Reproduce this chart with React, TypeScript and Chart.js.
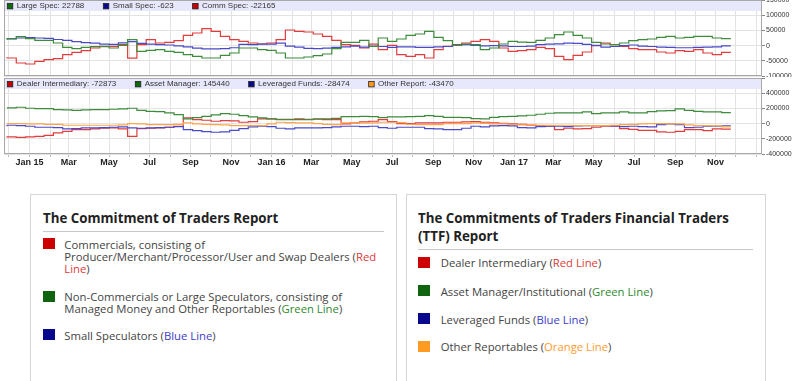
import React, { useEffect, useRef } from 'react';
import { Chart, registerables } from 'chart.js';
Chart.register(...registerables);

// report dates: days counted from 2015-01-01, one report every two weeks
const FIRST_REPORT_DAY = -34;
const REPORT_STEP_DAYS = 14;

// Legacy COT (top panel)
const LARGE_SPEC = [19500, 22800, 29400, 22800, 17300, 17300, 8500, -5700, -10100, -5700,
  -3500, -2400, -7900, 900, 19500, -18900, -15600, -13400, -18900, -22100,
  -29800, -35300, -40800, -40800, -32000, -24300, -7900, -7900, -13400, -15600,
  -24300, -40800, -40800, -37500, -33100, -27600, -10100, 10700, 10700, 17300,
  -3000, 25000, 14000, 21700, 33800, 38100, 46900, 27200, 16200, 900,
  5300, 3000, -13400, -7900, 5300, 14000, 11700, 10700, 17300, 25000,
  35900, 44700, 33800, 25000, 10700, 5300, 3000, 8500, 16200, 19500,
  21700, 27200, 30500, 25000, 27200, 30500, 30500, 25000, 22788];
const SMALL_SPEC = [22000, 22000, 25000, 26000, 25000, 24000, 20000, 17000, 13000, 10000,
  8000, 5000, 4000, 9000, 13000, 7000, 5000, 3000, 2000, -1000,
  -4000, -8000, -11000, -11000, -10000, -7000, 4000, 3000, 5000, 5000,
  8000, -2000, -5000, -9000, -10000, -8000, -6000, -4000, -2000, -5000,
  -2000, -3000, -6000, -4000, -4000, -6000, -6000, -4000, -3000, 2000,
  3000, 1000, -1000, 0, -1000, -3000, -3000, -2000, 3000, 5000,
  6000, 8000, 7000, 4000, 0, -5000, -3000, 0, 2000, -2000,
  -3000, -5000, -6000, -7000, -7000, -6000, -5000, -4000, -623];
const COMM_SPEC = [-38600, -40800, -57200, -60500, -51700, -46300, -43000, -29800, -22100, -16700,
  -7900, -3500, -2400, 3000, -40900, 3000, 19500, 8500, 10700, 16200,
  33800, 41400, 55700, 46900, 30500, 19500, 14000, 8500, 5300, 8500,
  19500, 51300, 46900, 44700, 38100, 30500, 17300, 3000, 900, -7900,
  5000, -13400, 900, -29800, -35300, -29800, -40800, -13400, -2400, 3000,
  8500, 14000, 19500, 14000, -7900, -18900, -16700, -13400, -5700, -10100,
  -35300, -46300, -32000, -21000, 900, 8500, 3000, -2400, -10100, -13400,
  -13400, -21000, -24300, -16700, -18900, -13400, -24300, -29800, -22165];

// TFF (bottom panel)
const DEALER = [-167000, -175000, -180000, -175000, -167000, -154000, -123000, -101000, -79000, -79000,
  -70000, -61000, -57000, -70000, -167000, -66000, -61000, -57000, -48000, -35000,
  75000, 53000, 44000, 31000, 39000, 35000, 18000, 26000, 61000, 61000,
  57000, 57000, 61000, 57000, 57000, 53000, 53000, -4000, 9000, 22000,
  31000, 53000, 26000, 0, 0, 9000, 9000, 9000, 18000, 18000,
  22000, 26000, 18000, 9000, 4000, -4000, -9000, -22000, -26000, -35000,
  -79000, -61000, -70000, -66000, -48000, -35000, -35000, -66000, -75000, -88000,
  -88000, -110000, -114000, -101000, -79000, -79000, -92000, -70000, -72873];
const ASSET_MANAGER = [206000, 206000, 215000, 202000, 197000, 197000, 184000, 180000, 175000, 180000,
  184000, 184000, 189000, 193000, 202000, 175000, 162000, 158000, 140000, 118000,
  61000, 79000, 96000, 114000, 132000, 123000, 105000, 88000, 75000, 61000,
  53000, 53000, 53000, 53000, 61000, 61000, 70000, 92000, 92000, 96000,
  92000, 79000, 88000, 88000, 92000, 96000, 105000, 96000, 83000, 83000,
  79000, 66000, 61000, 83000, 92000, 96000, 101000, 110000, 123000, 136000,
  140000, 140000, 140000, 154000, 132000, 140000, 140000, 154000, 140000, 140000,
  158000, 167000, 171000, 193000, 175000, 162000, 154000, 154000, 145440];
const LEVERAGED_FUNDS = [-35000, -22000, -26000, -35000, -48000, -48000, -53000, -70000, -66000, -57000,
  -57000, -53000, -48000, -44000, -57000, -61000, -57000, -53000, -48000, -39000,
  -79000, -92000, -105000, -114000, -110000, -88000, -66000, -44000, -35000, -39000,
  -61000, -70000, -57000, -57000, -57000, -53000, -44000, -35000, -35000, -39000,
  -35000, -53000, -61000, -48000, -48000, -48000, -66000, -70000, -79000, -79000,
  -61000, -35000, -44000, -31000, -26000, -31000, -53000, -57000, -39000, -35000,
  -35000, -39000, -31000, -26000, -26000, -26000, -31000, -39000, -35000, -39000,
  -44000, -13000, -4000, -13000, -53000, -48000, -35000, -35000, -28474];
const OTHER_REPORT = [0, 0, 0, -4000, -4000, -9000, -9000, -22000, -22000, -22000,
  -22000, -22000, -22000, -18000, 0, -4000, -13000, -13000, -13000, -9000,
  9000, -4000, -9000, -13000, -18000, -26000, -26000, -26000, -26000, -4000,
  18000, 13000, 9000, 9000, 0, -9000, -13000, 9000, 9000, 9000,
  9000, 18000, 18000, 13000, -9000, -13000, -13000, -13000, 0, 0,
  0, 9000, 4000, -4000, -4000, -9000, -18000, -18000, -22000, -22000,
  -22000, -22000, -26000, -26000, -26000, -26000, -22000, -13000, -9000, -4000,
  0, 0, -4000, -4000, -18000, -26000, -26000, -31000, -43470];

const MONTH_NAMES = ['Jan', 'Feb', 'Mar', 'Apr', 'May', 'Jun', 'Jul', 'Aug', 'Sep', 'Oct', 'Nov', 'Dec'];
const X_MIN = -38.5;
const X_MAX = 1105;
const LAST_LABEL_DAY = 1080;

const REPORT_DAYS = LARGE_SPEC.map((_, i) => FIRST_REPORT_DAY + i * REPORT_STEP_DAYS);

const MONTH_TICKS: { value: number; label: string }[] = [];
for (let y = 2014; y <= 2018; y++) {
  for (let m = 0; m < 12; m++) {
    const d = (Date.UTC(y, m, 1) - Date.UTC(2015, 0, 1)) / 86400000;
    if (d >= X_MIN && d <= X_MAX) {
      const label = d > LAST_LABEL_DAY ? '' : m === 0 ? `Jan ${String(y).slice(2)}` : m % 2 === 0 ? MONTH_NAMES[m] : '';
      MONTH_TICKS.push({ value: d, label });
    }
  }
}
const LABEL_MAP = new Map(MONTH_TICKS.map((t) => [t.value, t.label]));

const LINE_GREEN = '#3c8c3c';
const LINE_BLUE = '#4a4ac8';
const LINE_RED = '#e23c3c';
const LINE_ORANGE = '#ffa64d';
const SQ_GREEN = '#0b6b0b';
const SQ_BLUE = '#0a0a8c';
const SQ_RED = '#c40000';
const SQ_ORANGE = '#ff9a1f';

const FONT = '"Liberation Sans", Arial, sans-serif';
const GRID = '#e3e3e3';

const bandPlugin = {
  id: 'band',
  afterDraw(chart: any, _args: any, opts: any) {
    const { ctx, chartArea: a } = chart;
    ctx.save();
    ctx.fillStyle = 'rgb(232,232,252)';
    ctx.fillRect(a.left + 1, a.top + 1, a.right - a.left - 1, 10);
    ctx.font = `8px ${FONT}`;
    ctx.textBaseline = 'middle';
    const cy = a.top + 6.2;
    let x = a.left + 3.3;
    for (const it of opts.items || []) {
      ctx.fillStyle = it.color;
      ctx.fillRect(x, cy - 2.8, 5.5, 5.5);
      ctx.strokeStyle = '#222';
      ctx.lineWidth = 0.8;
      ctx.strokeRect(x, cy - 2.8, 5.5, 5.5);
      ctx.fillStyle = '#333';
      ctx.fillText(it.label, x + 9.4, cy);
      x += 9.4 + ctx.measureText(it.label).width + 19;
    }
    ctx.strokeStyle = '#a8a8a8';
    ctx.lineWidth = 1;
    ctx.strokeRect(a.left + 0.5, a.top + 0.5, a.right - a.left - 1, a.bottom - a.top - 1);
    ctx.restore();
  },
};

function series(label: string, values: number[], color: string) {
  return {
    label,
    data: values.map((v, i) => ({ x: REPORT_DAYS[i], y: v })),
    borderColor: color,
    backgroundColor: color,
    borderWidth: 1.2,
    pointRadius: 0,
    stepped: 'after' as const,
    fill: false,
  };
}

const zeroPad = (s: any) => {
  s.paddingTop = 0;
  s.paddingBottom = 0;
  s.paddingLeft = 0;
  s.paddingRight = 0;
};

function xScale(showLabels: boolean) {
  return {
    type: 'linear' as const,
    min: X_MIN,
    max: X_MAX,
    afterBuildTicks: (s: any) => {
      s.ticks = MONTH_TICKS.map((t) => ({ value: t.value }));
    },
    afterFit: (s: any) => {
      s.height = showLabels ? 15 : 0;
      zeroPad(s);
    },
    border: { display: false },
    grid: { color: GRID, drawTicks: showLabels, tickLength: 3, tickColor: '#bbb' },
    ticks: {
      display: showLabels,
      autoSkip: false,
      maxRotation: 0,
      minRotation: 0,
      padding: 0,
      color: '#222',
      font: { family: FONT, size: 9, weight: 'bold' as const },
      callback: (v: any) => LABEL_MAP.get(v) ?? '',
    },
  };
}

function yScale(min: number, max: number, step: number, hideTop: boolean) {
  return {
    position: 'right' as const,
    min,
    max,
    afterFit: (s: any) => {
      s.width = 38;
      zeroPad(s);
    },
    border: { display: false },
    grid: { color: GRID, tickLength: 3, tickColor: '#888' },
    ticks: {
      stepSize: step,
      autoSkip: false,
      padding: 1,
      color: '#333',
      font: { family: FONT, size: 7 },
      callback: (v: any) => (hideTop && v === max ? '' : String(v)),
    },
  };
}

export default function App() {
  const topRef = useRef<HTMLCanvasElement>(null);
  const botRef = useRef<HTMLCanvasElement>(null);

  useEffect(() => {
    const top = new Chart(topRef.current!, {
      type: 'line',
      data: {
        datasets: [
          series('Large Spec', LARGE_SPEC, LINE_GREEN),
          series('Small Spec', SMALL_SPEC, LINE_BLUE),
          series('Comm Spec', COMM_SPEC, LINE_RED),
        ],
      },
      options: {
        responsive: false,
        animation: false,
        devicePixelRatio: 1,
        layout: { autoPadding: false, padding: { left: 4, right: 0, top: 0, bottom: 1 } },
        scales: { x: xScale(false), y: yScale(-100000, 150000, 50000, false) },
        plugins: {
          legend: { display: false },
          tooltip: { enabled: false },
          band: {
            items: [
              { label: `Large Spec: ${LARGE_SPEC[LARGE_SPEC.length - 1]}`, color: SQ_GREEN },
              { label: `Small Spec: ${SMALL_SPEC[SMALL_SPEC.length - 1]}`, color: SQ_BLUE },
              { label: `Comm Spec: ${COMM_SPEC[COMM_SPEC.length - 1]}`, color: SQ_RED },
            ],
          },
        } as any,
      },
      plugins: [bandPlugin],
    });
    const bot = new Chart(botRef.current!, {
      type: 'line',
      data: {
        datasets: [
          series('Asset Manager', ASSET_MANAGER, LINE_GREEN),
          series('Other Report', OTHER_REPORT, LINE_ORANGE),
          series('Leveraged Funds', LEVERAGED_FUNDS, LINE_BLUE),
          series('Dealer Intermediary', DEALER, LINE_RED),
        ],
      },
      options: {
        responsive: false,
        animation: false,
        devicePixelRatio: 1,
        layout: { autoPadding: false, padding: { left: 4, right: 0, top: 1, bottom: 0 } },
        scales: { x: xScale(true), y: yScale(-400000, 600000, 200000, true) },
        plugins: {
          legend: { display: false },
          tooltip: { enabled: false },
          band: {
            items: [
              { label: `Dealer Intermediary: ${DEALER[DEALER.length - 1]}`, color: SQ_RED },
              { label: `Asset Manager: ${ASSET_MANAGER[ASSET_MANAGER.length - 1]}`, color: SQ_GREEN },
              { label: `Leveraged Funds: ${LEVERAGED_FUNDS[LEVERAGED_FUNDS.length - 1]}`, color: SQ_BLUE },
              { label: `Other Report: ${OTHER_REPORT[OTHER_REPORT.length - 1]}`, color: SQ_ORANGE },
            ],
          },
        } as any,
      },
      plugins: [bandPlugin],
    });
    return () => {
      top.destroy();
      bot.destroy();
    };
  }, []);

  const txt: React.CSSProperties = {
    position: 'absolute',
    fontFamily: '"Open Sans", "Noto Sans", sans-serif',
    fontSize: 11.3,
    lineHeight: '11.8px',
    color: '#444',
    whiteSpace: 'nowrap',
  };
  const title: React.CSSProperties = {
    position: 'absolute',
    fontFamily: '"Open Sans", "Noto Sans", sans-serif',
    fontSize: 13.3,
    fontWeight: 700,
    lineHeight: '18.6px',
    color: '#222',
    whiteSpace: 'nowrap',
  };
  const sq = (left: number, top: number, color: string) => (
    <div style={{ position: 'absolute', left, top, width: 11.5, height: 11, background: color }} />
  );
  const item = (sqLeft: number, textLeft: number, center: number, color: string, content: React.ReactNode) => (
    <>
      {sq(sqLeft, center - 6.8, color)}
      <div style={{ ...txt, left: textLeft, top: center - 5.9 }}>{content}</div>
    </>
  );
  const RED_T = '#e03a3a';
  const GREEN_T = '#2f8a2f';
  const BLUE_T = '#3c3cc8';
  const ORANGE_T = '#ff9b2f';

  return (
    <div style={{ position: 'absolute', left: 0, top: 0, width: 800, height: 381, overflow: 'hidden', background: '#fff' }}>
      <canvas ref={topRef} width={800} height={77} style={{ position: 'absolute', left: 0, top: 0, width: 800, height: 77 }} />
      <canvas ref={botRef} width={800} height={92} style={{ position: 'absolute', left: 0, top: 77, width: 800, height: 92 }} />

      <div style={{ position: 'absolute', left: 30, top: 194, width: 367, height: 220, border: '1px solid #d6d6d6', boxSizing: 'border-box' }} />
      <div style={{ position: 'absolute', left: 406, top: 194, width: 360, height: 220, border: '1px solid #d6d6d6', boxSizing: 'border-box' }} />

      <div style={{ ...title, left: 43, top: 218 - 9.3 }}>The Commitment of Traders Report</div>
      <div style={{ position: 'absolute', left: 43, top: 231, width: 341, height: 1, background: '#c8c8c8' }} />
      {item(43, 64.3, 245, '#cc0000', (
        <>Commercials, consisting of<br />Producer/Merchant/Processor/User and Swap Dealers (<span style={{ color: RED_T }}>Red<br />Line</span>)</>
      ))}
      {item(43, 64.3, 297.3, '#106410', (
        <>Non-Commercials or Large Speculators, consisting of<br />Managed Money and Other Reportables (<span style={{ color: GREEN_T }}>Green Line</span>)</>
      ))}
      {item(43, 64.3, 336, '#08088c', (
        <>Small Speculators (<span style={{ color: BLUE_T }}>Blue Line</span>)</>
      ))}

      <div style={{ ...title, left: 418, top: 218 - 9.3 }}>The Commitments of Traders Financial Traders<br />(TTF) Report</div>
      <div style={{ position: 'absolute', left: 418, top: 249, width: 335, height: 1, background: '#c8c8c8' }} />
      {item(418.3, 440.7, 263.3, '#cc0000', (<>Dealer Intermediary (<span style={{ color: RED_T }}>Red Line</span>)</>))}
      {item(418.3, 440.7, 291.7, '#106410', (<>Asset Manager/Institutional (<span style={{ color: GREEN_T }}>Green Line</span>)</>))}
      {item(418.3, 440.7, 319.7, '#08088c', (<>Leveraged Funds (<span style={{ color: BLUE_T }}>Blue Line</span>)</>))}
      {item(418.3, 440.7, 347.3, '#ff9a22', (<>Other Reportables (<span style={{ color: ORANGE_T }}>Orange Line</span>)</>))}
    </div>
  );
}
